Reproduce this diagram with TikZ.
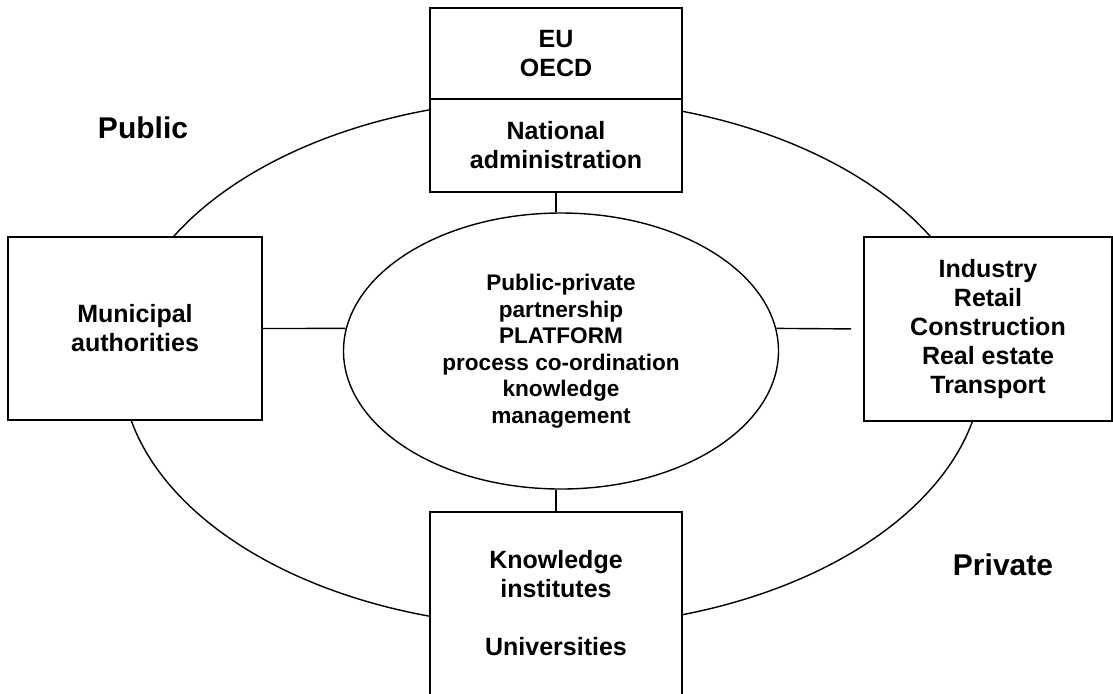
\documentclass[tikz,border=0pt]{standalone}
\usepackage{fontspec}
\setmainfont{Liberation Sans}
\usetikzlibrary{positioning,shapes.geometric}

\begin{document}
\begin{tikzpicture}
  [x=0.5pt, y=-0.5pt,
   line width=0.7pt,
   boxnode/.style={rectangle,
                   draw=black,
                   fill=white,
                   align=center,
                   inner sep=0pt,
                   outer sep=0pt,
                   minimum width=126pt,
                   font=\fontsize{12.5}{14.5}\selectfont\bfseries},
   ovalnode/.style={ellipse,
                    draw=black,
                    align=center,
                    inner sep=0pt,
                    minimum width=217.5pt,
                    minimum height=138pt,
                    font=\fontsize{11.3}{13.25}\selectfont\bfseries},
   sidelabel/.style={anchor=base,
                     font=\fontsize{15}{18}\selectfont\bfseries},]
  \useasboundingbox (0,0) rectangle (1113,693);
  % outer ring
  \draw (552,363) ellipse [x radius=215.5pt, y radius=132pt];
  \node[boxnode, minimum height=45.5pt]                   (eu)   at (556,53.5)  {EU\\OECD};
  \node[boxnode, minimum height=46.5pt, below=0pt of eu]  (nat)                 {National\\administration};
  \node[boxnode, minimum width=127pt, minimum height=91.5pt] (muni) at (135,328.5) {Municipal\\authorities};
  \node[boxnode, minimum width=124pt, minimum height=92pt]   (ind)  at (988,329)   {Industry\\Retail\\Construction\\Real estate\\Transport};
  \node[boxnode, minimum height=91.5pt]                   (know) at (556,603.5) {Knowledge\\institutes\\[14.5pt]Universities};
  \node[ovalnode] (plat) at (561,351) {Public-private\\partnership\\PLATFORM\\process co-ordination\\knowledge\\management};
  \node[sidelabel] (pub)  at (143,138)  {Public};
  \node[sidelabel] (priv) at (1003,575) {Private};
  \draw (nat.south) -- (plat.north -| nat.south);
  \draw (muni.east) -- (plat.174);
  \draw[shorten >=6.5pt] (plat.6) -- (ind.west);
  \draw (plat.south -| know.north) -- (know.north);
\end{tikzpicture}
\end{document}
